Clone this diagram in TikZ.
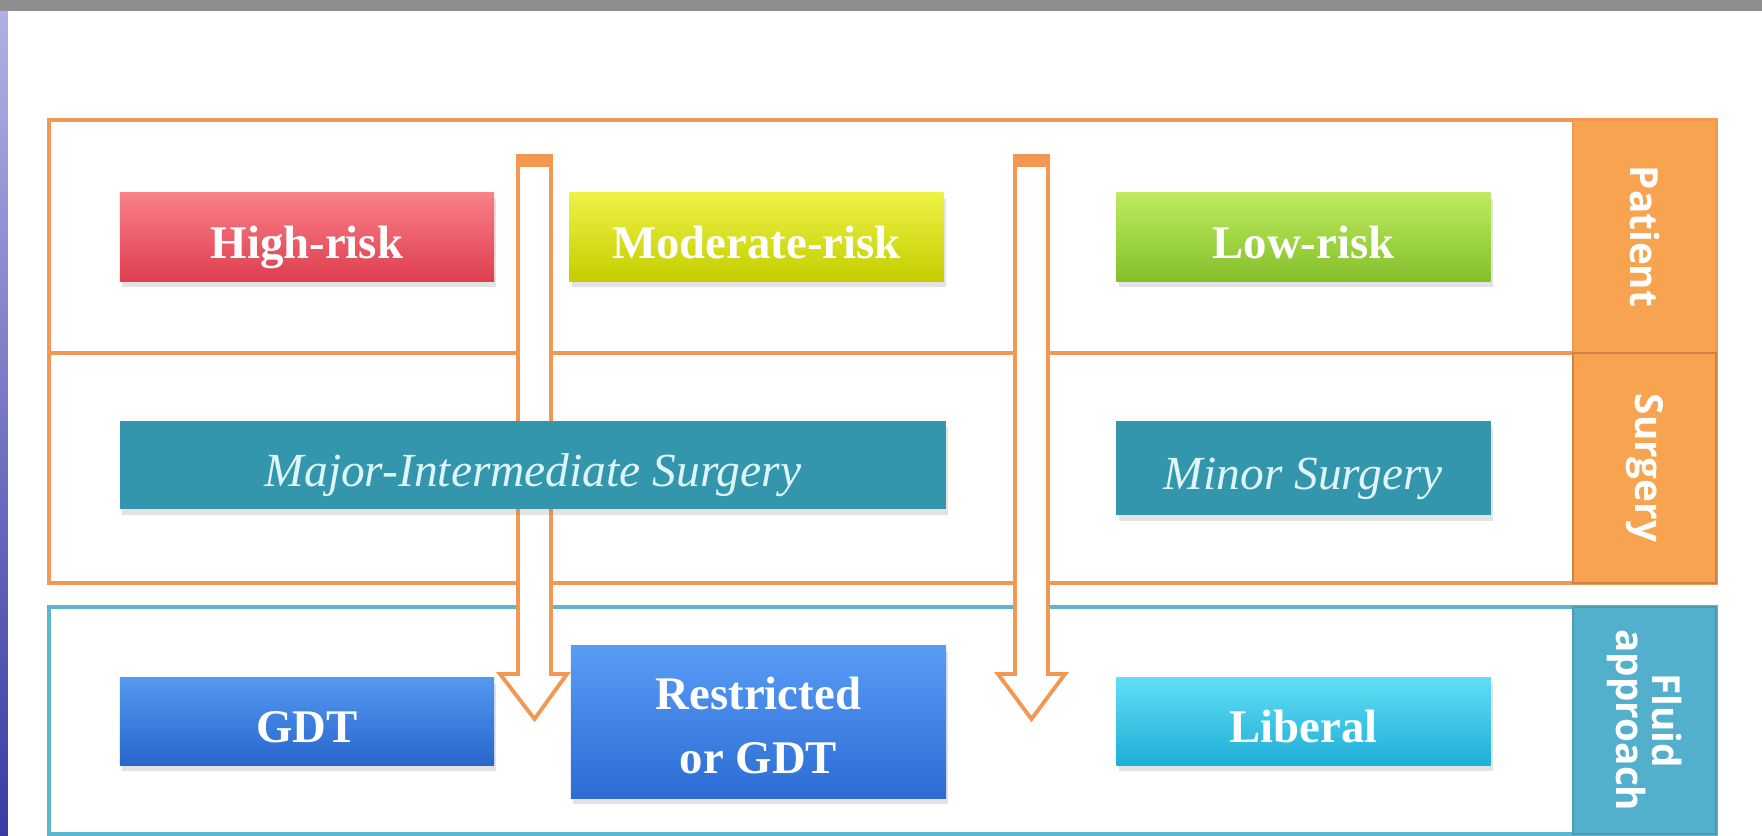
\documentclass[tikz,border=0pt]{standalone}
\usepackage{fontspec}
\setmainfont{Liberation Serif}
\newfontfamily\bandfont{Open Sans}
\usetikzlibrary{shadows}
\definecolor{bandorange}{RGB}{242,152,82}
\definecolor{labelorange}{RGB}{247,163,80}
\definecolor{bandteal}{RGB}{92,182,206}
\definecolor{labelteal}{RGB}{82,176,204}
\definecolor{surgteal}{RGB}{52,150,172}
\definecolor{surgtext}{RGB}{222,246,250}
\definecolor{topbar}{RGB}{142,142,142}
\tikzset{
  boxtext/.style={align=center, font=\fontsize{13.3}{18}\selectfont\bfseries, text=white},
  boxbase/.style={boxtext, minimum width=3.74cm, minimum height=0.88cm, inner sep=0pt,
    drop shadow={shadow xshift=0.6pt, shadow yshift=-1.8pt, opacity=0.22}},
  riskbox/.style={boxbase, text height=12.4pt, text depth=0.2pt},
  surgbox/.style={riskbox, fill=surgteal, text=surgtext, font=\fontsize{13.5}{18}\selectfont\itshape},
  bandlabel/.style={rotate=-90, align=center, text=white, font=\bandfont\fontsize{11}{10}\selectfont\bfseries},
  blockarrow/.style={draw=bandorange, line width=1.1pt, fill=white, line join=miter}
}
\begin{document}
\begin{tikzpicture}[x=0.01cm, y=-0.01cm]
        \useasboundingbox (0,0) rectangle (1762,836);
        \fill[white] (0,0) rectangle (1762,836);
        \fill[topbar] (0,0) rectangle (1762,11);
        \shade[top color={rgb,255:red,176;green,176;blue,228}, bottom color={rgb,255:red,58;green,58;blue,164}] (0,11) rectangle (8,836);

        \draw[bandorange, line width=1.1pt] (49,120) rectangle (1716,583); \draw[bandorange, line width=1.1pt] (49,353) -- (1573,353);
        \draw[bandteal, line width=1.1pt] (49,607) rectangle (1716,834);
        \node[fill=labelorange, draw=bandorange, minimum width=1.43cm, minimum height=2.33cm, inner sep=0pt] (patlab) at (1644.5,236.5) {};
        \node[fill=labelorange, draw=bandorange!85!black, minimum width=1.43cm, minimum height=2.30cm, inner sep=0pt] (surlab) at (1644.5,468) {};
        \node[fill=labelteal, draw=bandteal!85!black, minimum width=1.43cm, minimum height=2.27cm, inner sep=0pt] (flulab) at (1644.5,720.5) {};
        \node[bandlabel] (pattext) at (patlab) {Patient};
        \node[bandlabel] (surtext) at (surlab) {Surgery};
        \node[bandlabel] (flutext) at (flulab) {Fluid\\approach};

        \draw[blockarrow] (518,156) -- (551,156) -- (551,674) -- (567,674) -- (534.5,719) -- (500,674) -- (518,674) -- cycle; \fill[bandorange] (518,156) rectangle (551,167);
        \draw[blockarrow] (1015,156) -- (1048,156) -- (1048,674) -- (1065,674) -- (1031.5,719) -- (998,674) -- (1015,674) -- cycle; \fill[bandorange] (1015,156) rectangle (1048,167);

        \node[riskbox, top color={rgb,255:red,250;green,128;blue,136}, bottom color={rgb,255:red,222;green,62;blue,78}] (hirisk) at (307,237) {High-risk};
        \node[riskbox, top color={rgb,255:red,238;green,242;blue,70}, bottom color={rgb,255:red,196;green,206;blue,0}] (modrisk) at (756.5,237) {Moderate-risk};
        \node[riskbox, top color={rgb,255:red,190;green,234;blue,96}, bottom color={rgb,255:red,132;green,192;blue,42}] (lorisk) at (1303.5,237) {Low-risk};

        \node[surgbox, minimum width=8.26cm] (major) at (533,465) {Major-Intermediate Surgery};
        \node[surgbox, minimum height=0.94cm] (minor) at (1303.5,468) {Minor Surgery};

        \node[riskbox, minimum height=0.87cm, top color={rgb,255:red,84;green,152;blue,240}, bottom color={rgb,255:red,40;green,102;blue,204}] (gdt) at (307,721.5) {GDT};
        \node[boxbase, minimum width=3.75cm, minimum height=1.52cm, top color={rgb,255:red,88;green,156;blue,246}, bottom color={rgb,255:red,44;green,108;blue,212}] (restr) at (758.5,722) {};
        \node[boxtext] (restrtext) at (758.5,725.5) {Restricted\\or GDT};
        \node[riskbox, minimum height=0.87cm, top color={rgb,255:red,96;green,222;blue,246}, bottom color={rgb,255:red,30;green,174;blue,214}] (liberal) at (1303.5,721.5) {Liberal};
\end{tikzpicture}
\end{document}
